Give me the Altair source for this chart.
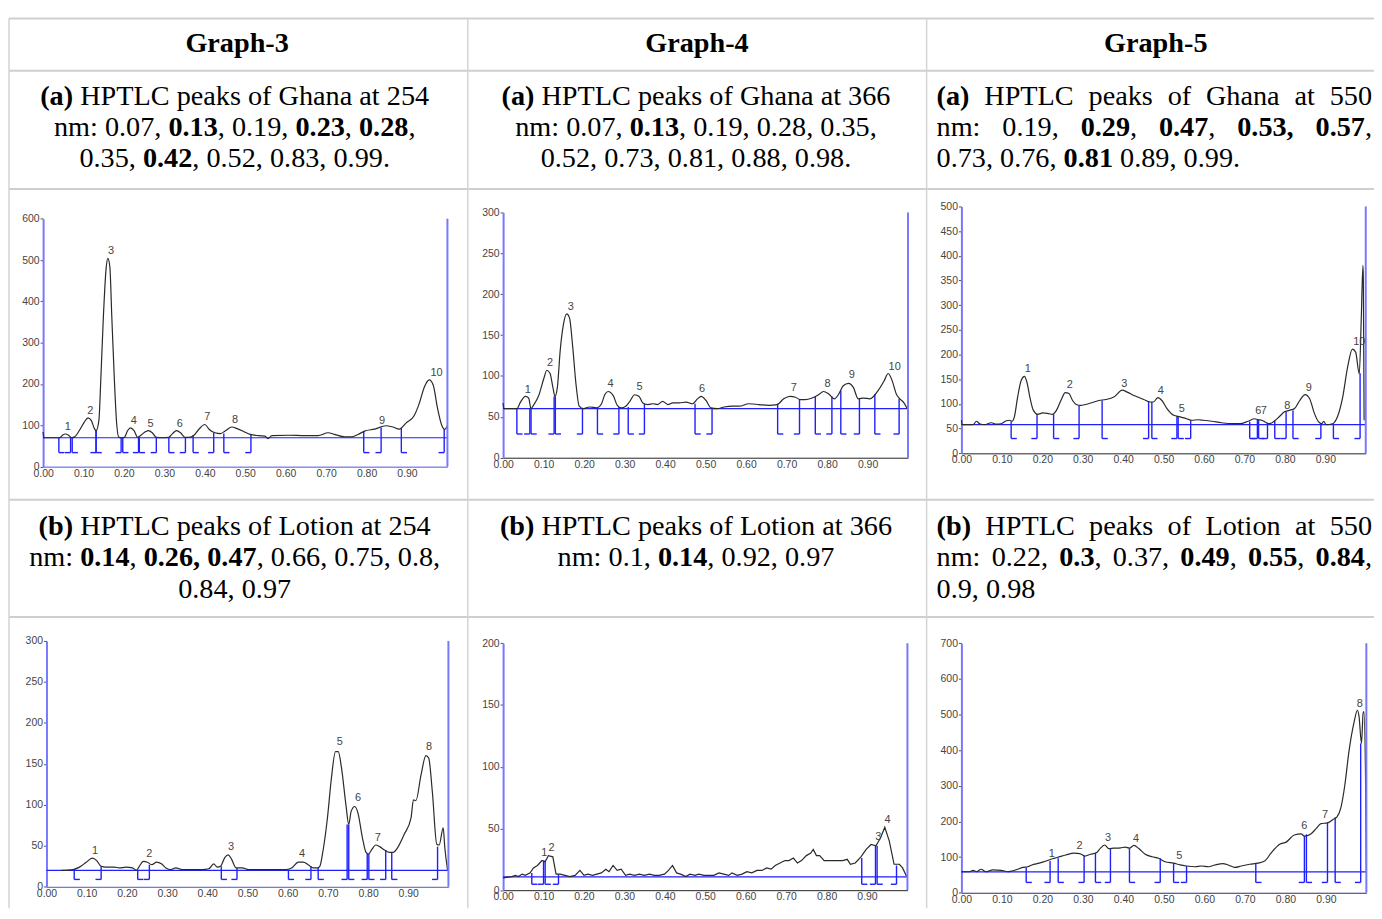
import altair as alt
import pandas as pd

# ---------------- page / layout constants ----------------
OFF = 8            # page margin
W, H = 1374, 903   # drawing area
FS = 28.4          # table font size
SERIF = "Liberation Serif"
SANS = "Liberation Sans"

# ---------------- shared tick labels ----------------
RF_TICKS = [0.0, 0.1, 0.2, 0.3, 0.4, 0.5, 0.6, 0.7, 0.8, 0.9]

# ---------------- Graph-3 (a) Ghana 254 nm ----------------
g3a_rf = [0.000,0.002,0.041,0.048,0.055,0.063,0.070,0.078,0.090,0.102,0.111,0.119,0.127,0.131,0.138,0.143,0.149,0.156,0.160,0.165,
          0.170,0.176,0.182,0.187,0.193,0.201,0.209,0.216,0.225,0.234,0.242,0.254,0.260,0.270,0.280,0.295,0.311,0.320,0.330,0.340,
          0.351,0.361,0.373,0.385,0.400,0.411,0.425,0.439,0.451,0.467,0.480,0.496,0.512,0.533,0.549,0.556,0.566,0.607,0.648,0.680,
          0.705,0.721,0.746,0.762,0.779,0.795,0.820,0.848,0.865,0.881,0.898,0.918,0.930,0.943,0.955,0.965,0.975,0.986,0.993,1.000]
g3a_val = [84,70,70,76,79,76,70,72,88,108,118,112,92,87,112,217,361,481,504,485,
           361,217,104,72,70,71,87,94,87,71,76,85,87,82,71,70,71,80,87,82,
           71,71,76,90,102,90,82,80,87,96,92,85,78,75,74,68,75,76,75,75,
           82,78,72,72,78,86,91,99,96,91,106,124,152,193,210,197,144,100,90,99]
g3a_bx = [0.039,0.068,0.072,0.131,0.131,0.193,0.197,0.236,0.238,0.280,0.311,0.352,0.371,0.422,0.447,0.514,0.793,0.836,0.886,0.992]
g3a_btop = [70,70,70,87,87,70,70,71,71,71,71,71,76,82,80,78,86,95,93,90]
g3a_lx = [0.061,0.117,0.168,0.224,0.266,0.338,0.406,0.475,0.838,0.973]
g3a_ly = [95,135,523,111,104,104,119,112,111,227]
g3a_base, g3a_level = 70, 34
g3a_yticks = [0, 100, 200, 300, 400, 500, 600]

# ---------------- Graph-4 (a) Ghana 366 nm ----------------
g4a_rf = [0,0.002,0.034,0.043,0.055,0.063,0.069,0.075,0.088,0.100,0.108,0.116,0.123,0.128,0.134,0.141,0.149,0.157,0.164,0.172,
          0.180,0.188,0.198,0.214,0.231,0.243,0.251,0.259,0.272,0.282,0.292,0.303,0.313,0.325,0.336,0.345,0.358,0.370,0.382,0.394,
          0.407,0.419,0.435,0.452,0.468,0.480,0.489,0.501,0.513,0.529,0.546,0.566,0.583,0.607,0.632,0.656,0.677,0.693,0.709,0.722,
          0.734,0.746,0.763,0.779,0.791,0.804,0.818,0.828,0.840,0.853,0.865,0.877,0.890,0.906,0.926,0.941,0.951,0.961,0.971,0.980,
          0.990,0.998]
g4a_val = [67,60,60,68,75,73,60,64,76,96,107,103,86,75,86,131,163,176,171,135,
           90,63,60,62,61,66,77,81,76,64,61,63,69,77,75,67,65,66,65,69,
           65,67,67,68,66,72,75,70,61,60,62,63,63,66,65,64,65,72,75,74,
           71,71,73,77,81,78,72,77,88,91,86,72,73,72,82,94,103,94,78,72,
           67,60]
g4a_bx = [0.034,0.066,0.069,0.126,0.129,0.196,0.233,0.286,0.309,0.349,0.474,0.516,0.678,0.732,0.771,0.812,0.834,0.880,0.918,0.978]
g4a_btop = [60,60,60,75,75,60,60,62,62,66,66,60,66,72,75,75,82,72,78,72]
g4a_lx = [0.061,0.116,0.167,0.265,0.337,0.491,0.718,0.801,0.861,0.967]
g4a_ly = [83,116,184,90,86,84,85,90,101,111]
g4a_base, g4a_level = 60, 29
g4a_yticks = [0, 50, 100, 150, 200, 250, 300]

# ---------------- Graph-5 (a) Ghana 550 nm ----------------
g5a_rf = [0,0.002,0.029,0.037,0.045,0.057,0.074,0.086,0.098,0.111,0.119,0.125,0.131,0.139,0.148,0.156,0.162,0.170,0.178,0.189,
          0.201,0.213,0.225,0.235,0.246,0.257,0.266,0.275,0.284,0.295,0.307,0.324,0.340,0.357,0.377,0.398,0.410,0.430,0.451,0.467,
          0.475,0.486,0.496,0.508,0.525,0.541,0.557,0.570,0.586,0.598,0.619,0.643,0.668,0.689,0.709,0.725,0.734,0.743,0.754,0.762,
          0.775,0.787,0.799,0.811,0.824,0.836,0.850,0.861,0.873,0.883,0.891,0.896,0.902,0.918,0.930,0.943,0.955,0.967,0.975,0.984,
          0.989,0.993,0.994,0.996]
g5a_val = [67,58,58,65,60,58,62,59,60,66,67,65,74,114,148,156,144,111,87,79,
           82,81,79,87,107,123,121,107,99,97,99,103,107,109,114,128,124,116,109,104,
           104,113,107,91,77,74,70,67,68,67,65,62,60,60,65,70,68,67,62,60,
           66,75,84,87,91,106,119,111,81,64,60,65,58,60,74,114,174,211,205,161,
           275,381,356,67]
g5a_bx = [0.123,0.187,0.228,0.291,0.348,0.463,0.471,0.533,0.536,0.567,0.713,0.732,0.735,0.757,0.775,0.803,0.820,0.889,0.920,0.986]
g5a_btop = [64,79,79,97,107,104,104,75,75,67,64,68,68,62,66,84,87,60,60,162]
g5a_lx = [0.164,0.268,0.403,0.493,0.545,0.734,0.748,0.806,0.859,0.984]
g5a_ly = [171,138,141,126,89,86,86,96,133,226]
g5a_base, g5a_level = 58, 30
g5a_yticks = [0, 50, 100, 150, 200, 250, 300, 350, 400, 450, 500]

# ---------------- Graph-3 (b) Lotion 254 nm ----------------
g3b_rf = [0.037,0.066,0.082,0.099,0.114,0.125,0.136,0.148,0.169,0.181,0.198,0.214,0.224,0.231,0.241,0.251,0.262,0.274,0.286,0.297,
          0.309,0.322,0.338,0.363,0.387,0.404,0.416,0.425,0.433,0.444,0.452,0.460,0.472,0.487,0.503,0.536,0.569,0.594,0.610,0.627,
          0.639,0.651,0.664,0.674,0.680,0.688,0.699,0.709,0.719,0.726,0.734,0.745,0.752,0.758,0.767,0.775,0.786,0.795,0.801,0.810,
          0.819,0.829,0.841,0.853,0.862,0.874,0.890,0.907,0.913,0.919,0.932,0.944,0.951,0.960,0.971,0.977,0.987,0.991,0.998]
g3b_val = [20,21,24,30,35,32,25,24,24,23,24,23,20,25,31,30,27,30,28,23,
           21,23,21,21,21,22,28,24,25,36,39,34,23,23,21,21,21,21,23,30,
           30,27,23,23,25,44,84,133,165,165,145,100,76,92,98,90,60,42,40,46,
           51,49,45,42,42,48,64,84,106,105,137,160,157,116,52,51,72,48,20]
g3b_bx = [0.069,0.136,0.227,0.256,0.435,0.474,0.602,0.658,0.676,0.748,0.752,0.798,0.802,0.844,0.859,0.973]
g3b_btop = [20,25,20,27,25,23,21,25,23,76,76,40,40,45,42,49]
g3b_lx = [0.121,0.256,0.459,0.636,0.730,0.775,0.824,0.952]
g3b_ly = [44,40,48,40,177,108,59,170]
g3b_base, g3b_level = 20, 9
g3b_yticks = [0, 50, 100, 150, 200, 250, 300]

# ---------------- Graph-4 (b) Lotion 366 nm ----------------
g4b_rf = [0,0.022,0.030,0.038,0.047,0.055,0.067,0.075,0.085,0.096,0.104,0.112,0.123,0.131,0.141,0.153,0.165,0.178,0.190,0.200,
          0.210,0.221,0.232,0.243,0.254,0.262,0.272,0.282,0.292,0.303,0.313,0.325,0.337,0.349,0.362,0.374,0.386,0.399,0.409,0.419,
          0.429,0.439,0.452,0.462,0.475,0.484,0.497,0.509,0.521,0.534,0.546,0.558,0.566,0.579,0.591,0.603,0.615,0.628,0.640,0.652,
          0.663,0.673,0.685,0.697,0.707,0.718,0.728,0.738,0.750,0.761,0.767,0.775,0.783,0.794,0.805,0.816,0.828,0.840,0.851,0.859,
          0.871,0.885,0.898,0.910,0.922,0.933,0.944,0.955,0.967,0.980,0.988,0.998]
g4b_val = [10,11,12,11,13,12,14,18,20,24,23,28,27,13,13,12,11,12,16,12,
           13,12,13,14,17,15,20,16,17,12,13,12,13,12,13,12,12,13,16,20,
           14,13,11,13,12,13,12,12,12,14,13,12,14,12,13,15,14,16,16,18,
           17,20,22,24,24,26,22,24,28,30,33,28,28,24,24,24,24,24,25,21,
           22,27,33,37,36,42,51,40,21,21,18,11]
g4b_bx = [0.071,0.100,0.104,0.137,0.887,0.921,0.925,0.973]
g4b_btop = [14,24,24,13,26,36,36,20]
g4b_lx = [0.102,0.120,0.928,0.951]
g4b_ly = [30,34,43,57]
g4b_base, g4b_level = 10.7, 4.8
g4b_yticks = [0, 50, 100, 150, 200]

# ---------------- Graph-5 (b) Lotion 550 nm ----------------
g5b_rf = [0,0.020,0.029,0.037,0.049,0.060,0.078,0.098,0.115,0.125,0.139,0.151,0.164,0.174,0.192,0.209,0.221,0.237,0.258,0.278,
          0.292,0.305,0.319,0.333,0.344,0.354,0.364,0.376,0.393,0.405,0.415,0.426,0.438,0.454,0.471,0.487,0.503,0.524,0.540,0.556,
          0.577,0.593,0.610,0.626,0.646,0.659,0.675,0.691,0.712,0.732,0.749,0.765,0.786,0.802,0.822,0.839,0.847,0.863,0.876,0.888,
          0.904,0.917,0.927,0.937,0.947,0.957,0.970,0.978,0.982,0.988,0.992,0.994,0.998,1.0]
g5b_val = [59,59,63,59,66,59,64,63,59,61,66,71,73,78,83,89,94,99,106,111,
           110,103,108,112,126,134,124,125,126,128,125,133,124,108,101,97,87,83,78,75,
           73,75,73,78,82,78,71,75,80,83,89,112,136,142,162,165,159,165,180,194,
           196,205,212,238,303,396,480,512,494,419,503,508,322,61]
g5b_bx = [0.160,0.219,0.239,0.303,0.331,0.368,0.415,0.491,0.524,0.556,0.727,0.847,0.852,0.904,0.923,0.986]
g5b_btop = [71,89,97,104,112,125,124,97,83,75,83,159,164,196,212,419]
g5b_lx = [0.223,0.292,0.362,0.431,0.538,0.847,0.898,0.984]
g5b_ly = [108,131,154,152,103,187,217,529]
g5b_base, g5b_level = 58.6, 29
g5b_yticks = [0, 100, 200, 300, 400, 500, 600, 700]

# ---------------- table text ----------------
HEADERS = ["Graph-3", "Graph-4", "Graph-5"]
ROW_A = [
    ["**(a)** HPTLC peaks of Ghana at 254", "nm: 0.07, **0.13**, 0.19, **0.23**, **0.28**,", "0.35, **0.42**, 0.52, 0.83, 0.99."],
    ["**(a)** HPTLC peaks of Ghana at 366", "nm: 0.07, **0.13**, 0.19, 0.28, 0.35,", "0.52, 0.73, 0.81, 0.88, 0.98."],
    ["**(a)** HPTLC peaks of Ghana at 550", "nm: 0.19, **0.29**, **0.47**, **0.53,** **0.57**,", "0.73, 0.76, **0.81** 0.89, 0.99."],
]
ROW_B = [
    ["**(b)** HPTLC peaks of Lotion at 254", "nm: **0.14**, **0.26, 0.47**, 0.66, 0.75, 0.8,", "0.84, 0.97"],
    ["**(b)** HPTLC peaks of Lotion at 366", "nm: 0.1, **0.14**, 0.92, 0.97"],
    ["**(b)** HPTLC peaks of Lotion at 550", "nm: 0.22, **0.3**, 0.37, **0.49**, **0.55**, **0.84**,", "0.9, 0.98"],
]

# ---------------- text layout (Times metrics) ----------------
W_REG = {' ': 250, '(': 333, ')': 333, ',': 250, '.': 250, ':': 278, '-': 333, 'a': 444, 'b': 500, 'c': 444,
         'e': 444, 'f': 333, 'h': 500, 'i': 278, 'k': 500, 'm': 778, 'n': 500, 'o': 500, 'p': 500, 'r': 333,
         's': 389, 't': 278, 'G': 722, 'H': 722, 'P': 556, 'T': 611, 'L': 611, 'C': 667}
W_BOLD = dict(W_REG)
W_BOLD.update({'a': 500, 'b': 556, ':': 333, 'G': 778, 'r': 444, 'p': 556, 'h': 556, 'n': 556, 'm': 833})


def tw(t, b):
    tab = W_BOLD if b else W_REG
    return sum(tab.get(c, 500) for c in t) / 1000.0 * FS


def parse_md(s):
    words, cur, buf, bold, i = [], [], "", False, 0
    while i < len(s):
        if s.startswith("**", i):
            if buf:
                cur.append((buf, bold)); buf = ""
            bold = not bold; i += 2; continue
        ch = s[i]
        if ch == " ":
            if buf:
                cur.append((buf, bold)); buf = ""
            if cur:
                words.append(cur); cur = []
        else:
            buf += ch
        i += 1
    if buf:
        cur.append((buf, bold))
    if cur:
        words.append(cur)
    return words


seg_rows = []


def place(line, base_y, mode, center=None, left=None, right=None):
    words = parse_md(line)
    widths = [sum(tw(t, b) for t, b in w) for w in words]
    sp = 0.25 * FS
    if mode == "center":
        total = sum(widths) + sp * (len(words) - 1)
        x, gap = center - total / 2.0, sp
    elif mode == "justify":
        x, gap = left, (right - left - sum(widths)) / max(1, len(words) - 1)
    else:
        x, gap = left, sp
    for w, wd in zip(words, widths):
        cx = x
        for t, b in w:
            seg_rows.append({"x": cx - OFF, "y": base_y - OFF, "t": t, "b": b})
            cx += tw(t, b)
        x += wd + gap


HEAD_CX = [238.5, 701, 1162.5]
for h, cx in zip(HEADERS, HEAD_CX):
    place("**" + h + "**", 50, "center", center=cx)

ROW_A_Y = [102.5, 134.0, 165.5]
ROW_B_Y = [535.5, 567.0, 598.5]
COL_CX = [236, 700]
for rows, ys in ((ROW_A, ROW_A_Y), (ROW_B, ROW_B_Y)):
    for c, lines in enumerate(rows):
        for k, line in enumerate(lines):
            if c < 2:
                place(line, ys[k], "center", center=COL_CX[c])
            else:
                last = (k == len(lines) - 1)
                place(line, ys[k], "left" if last else "justify", left=942, right=1380)

seg_df = pd.DataFrame(seg_rows)

# table borders (page coords)
HLINES = [16, 68.5, 187.5, 500, 618]
VLINES = [9, 470.5, 932]
hdf = pd.DataFrame({"x1": [1] * len(HLINES), "x2": [W] * len(HLINES), "y": [v - OFF for v in HLINES]})
vdf = pd.DataFrame({"x": [v - OFF for v in VLINES], "y1": [16 - OFF] * len(VLINES), "y2": [H] * len(VLINES)})

nos = dict(scale=None, axis=None)
h_layer = alt.Chart(hdf).mark_rule(color="#cfcfcf", strokeWidth=2).encode(
    x=alt.X("x1:Q", **nos), x2="x2:Q", y=alt.Y("y:Q", **nos))
v_layer = alt.Chart(vdf).mark_rule(color="#d4d4d4", strokeWidth=1.5).encode(
    x=alt.X("x:Q", **nos), y=alt.Y("y1:Q", **nos), y2="y2:Q")
txt_reg = alt.Chart(seg_df).transform_filter("!datum.b").mark_text(
    align="left", baseline="alphabetic", font=SERIF, fontSize=FS, color="#000").encode(
    x=alt.X("x:Q", **nos), y=alt.Y("y:Q", **nos), text="t:N")
txt_bold = alt.Chart(seg_df).transform_filter("datum.b").mark_text(
    align="left", baseline="alphabetic", font=SERIF, fontSize=FS, color="#000", fontWeight="bold").encode(
    x=alt.X("x:Q", **nos), y=alt.Y("y:Q", **nos), text="t:N")

BLUE = "#1f1fff"
LIGHT_BLUE = "#7878ff"


def panel(rf, val, bx, btop, lx, ly, base, level, yticks, x0, x1, y0, ytop, bottom_color, interp="monotone"):
    ymax = yticks[-1]
    sx = alt.Scale(domain=[0, 1], range=[x0 - OFF, x1 - OFF], nice=False, zero=False)
    sy = alt.Scale(domain=[0, ymax], range=[y0 - OFF, ytop - OFF], nice=False, zero=False)
    ax = alt.Axis(orient="bottom", offset=-(H - (y0 - OFF)), values=RF_TICKS, format=".2f", labelFlush=False,
                  labelOverlap=False, tickSize=0, labelPadding=1.5, domainColor=bottom_color, domainWidth=1,
                  labelFont=SANS, labelFontSize=10.5, labelColor="#444", grid=False, title=None)
    ay = alt.Axis(orient="left", offset=-(x0 - OFF), values=yticks, format="d", labelOverlap=False,
                  tickSize=3, tickColor="#555", labelPadding=1, domainColor=LIGHT_BLUE, domainWidth=2,
                  labelFont=SANS, labelFontSize=10.5, labelColor="#444", grid=False, title=None)
    X = lambda f: alt.X(f, scale=sx, axis=ax)
    Y = lambda f: alt.Y(f, scale=sy, axis=ay)

    cdf = pd.DataFrame({"rf": rf, "v": val})
    dirs = [1 if i % 2 == 0 else -1 for i in range(len(bx))]
    bdf = pd.DataFrame({"bx": bx, "top": btop, "dir": dirs, "lev": [level] * len(bx)})
    ldf = pd.DataFrame({"lx": lx, "ly": ly, "lt": [str(i + 1) for i in range(len(lx))]})
    edf = pd.DataFrame({"e0": [0.0], "e1": [1.0], "b": [base], "y0": [0], "y1": [ymax]})

    baseline = alt.Chart(edf).mark_rule(color=BLUE, strokeWidth=1.2).encode(x=X("e0:Q"), x2="e1:Q", y=Y("b:Q"))
    vert = alt.Chart(bdf).mark_rule(color=BLUE, strokeWidth=1.4).encode(x=X("bx:Q"), y=Y("lev:Q"), y2="top:Q")
    tick = alt.Chart(bdf).transform_calculate(be="datum.bx + datum.dir * 0.014").mark_rule(
        color=BLUE, strokeWidth=1.4).encode(x=X("bx:Q"), x2="be:Q", y=Y("lev:Q"))
    curve = alt.Chart(cdf).mark_line(color="#2a2a2a", strokeWidth=1.2, interpolate=interp).encode(
        x=X("rf:Q"), y=Y("v:Q"))
    edge = alt.Chart(edf).mark_rule(color=LIGHT_BLUE, strokeWidth=2).encode(x=X("e1:Q"), y=Y("y0:Q"), y2="y1:Q")
    labels = alt.Chart(ldf).mark_text(font=SANS, fontSize=11, color="#444").encode(
        x=X("lx:Q"), y=Y("ly:Q"), text="lt:N")
    return alt.layer(baseline, vert, tick, curve, edge, labels)


p1 = panel(g3a_rf, g3a_val, g3a_bx, g3a_btop, g3a_lx, g3a_ly, g3a_base, g3a_level, g3a_yticks,
           43.3, 450.0, 466.7, 217.3, "#5050e0")
p2 = panel(g4a_rf, g4a_val, g4a_bx, g4a_btop, g4a_lx, g4a_ly, g4a_base, g4a_level, g4a_yticks,
           506.0, 913.3, 457.7, 211.0, "#222222")
p3 = panel(g5a_rf, g5a_val, g5a_bx, g5a_btop, g5a_lx, g5a_ly, g5a_base, g5a_level, g5a_yticks,
           967.0, 1373.7, 453.3, 205.0, "#222222")
p4 = panel(g3b_rf, g3b_val, g3b_bx, g3b_btop, g3b_lx, g3b_ly, g3b_base, g3b_level, g3b_yticks,
           46.7, 451.0, 889.3, 642.0, "#5050e0")
p5 = panel(g4b_rf, g4b_val, g4b_bx, g4b_btop, g4b_lx, g4b_ly, g4b_base, g4b_level, g4b_yticks,
           506.0, 912.7, 892.7, 644.3, "#222222", interp="linear")
p6 = panel(g5b_rf, g5b_val, g5b_bx, g5b_btop, g5b_lx, g5b_ly, g5b_base, g5b_level, g5b_yticks,
           967.0, 1374.3, 895.3, 644.3, "#2a2a80")

chart = alt.layer(h_layer, v_layer, txt_reg, txt_bold, p1, p2, p3, p4, p5, p6).resolve_scale(
    x="independent", y="independent").resolve_axis(x="independent", y="independent").properties(
    width=W, height=H, padding=0, background="white",
    autosize=alt.AutoSizeParams(type="none")).configure_view(stroke=None)

chart.save("out.html", embed_options={"renderer": "svg", "actions": False})
